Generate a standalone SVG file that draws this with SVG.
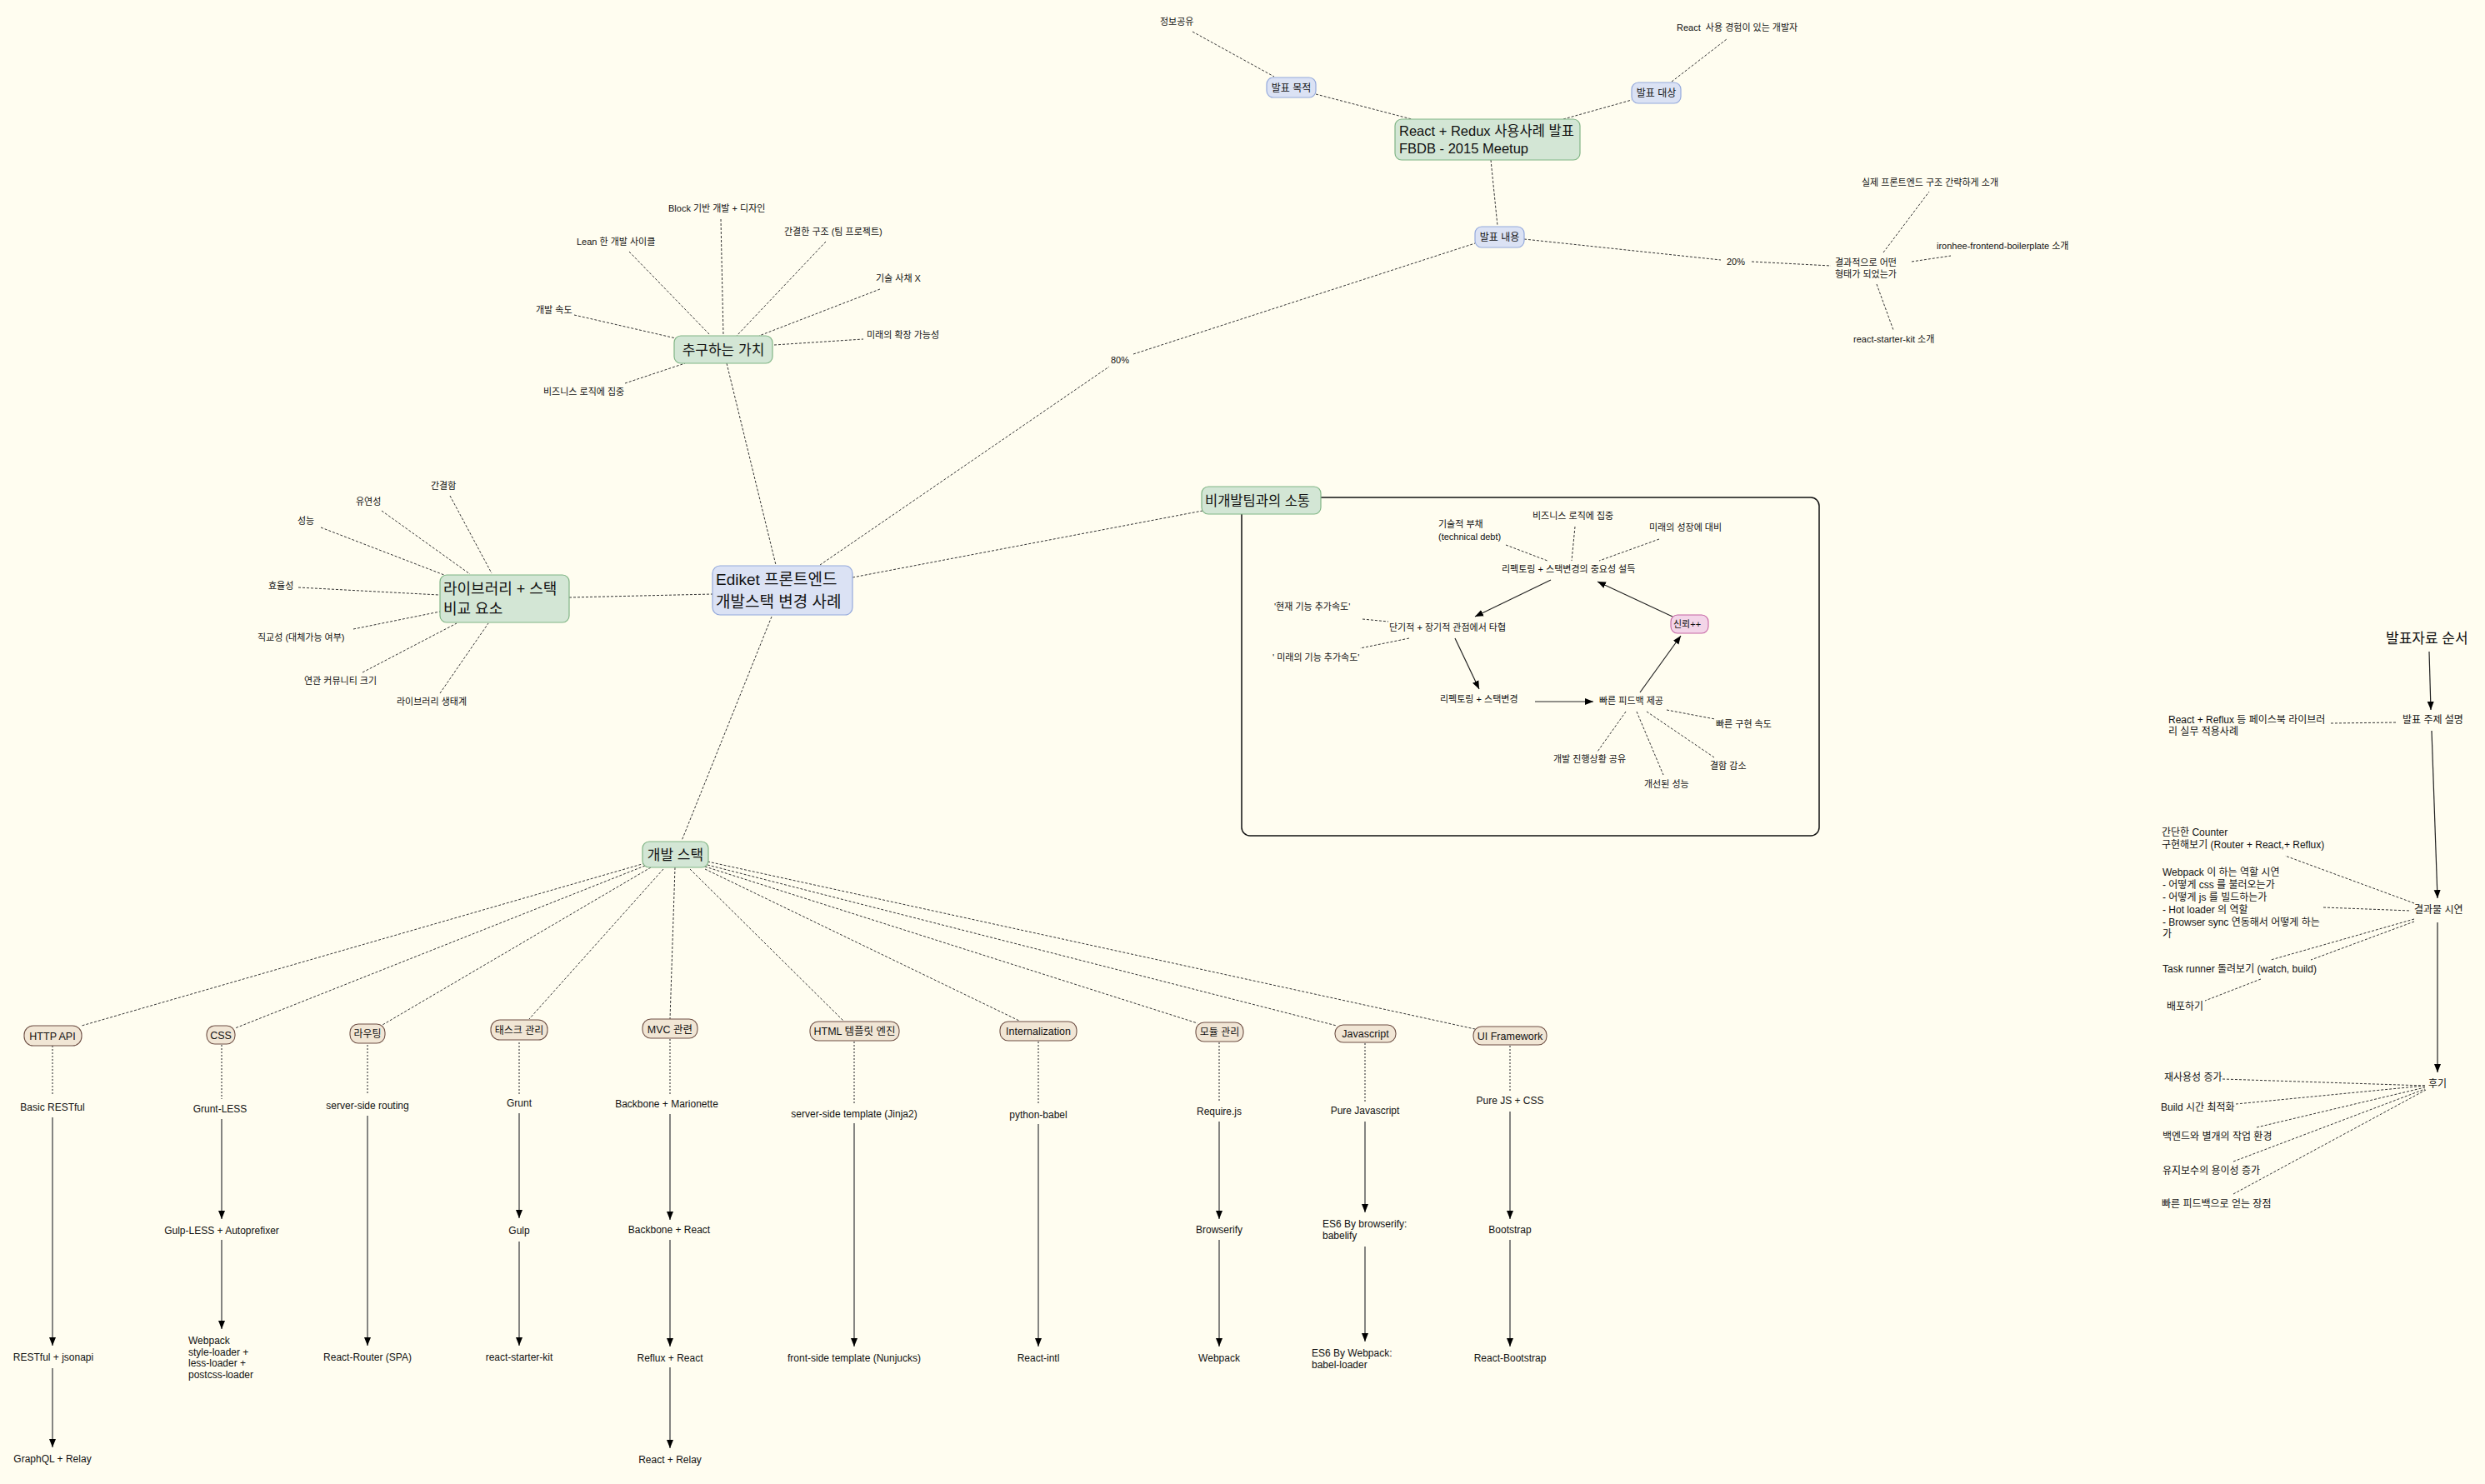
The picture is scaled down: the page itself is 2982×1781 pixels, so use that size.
<svg xmlns="http://www.w3.org/2000/svg" width="2982" height="1781" viewBox="0 0 2982 1781">
<defs>
<style>
text{font-family:"Liberation Sans","Noto Sans CJK KR",sans-serif;fill:#111}
.f11{font-size:11px}.f12{font-size:12px}.f125{font-size:12.5px}.f165{font-size:16.5px}.f17{font-size:17px}.f18{font-size:18px}.f19{font-size:19px}
.m{text-anchor:middle}
.pre{white-space:pre}
.dash{stroke:#333;stroke-width:1;stroke-dasharray:3 2;fill:none}
.dot{stroke:#555;stroke-width:1.3;stroke-dasharray:2 2;fill:none}
.arr{stroke:#222;stroke-width:1.2;fill:none;marker-end:url(#ah)}
.garr{stroke:#666;stroke-width:1.6;fill:none;marker-end:url(#ah)}
.green{fill:#d3e6d5;stroke:#80b585;stroke-width:1.2}
.blue{fill:#dbe2f4;stroke:#94a9dc;stroke-width:1.2}
.beige{fill:#f1e6d5;stroke:#6e4f44;stroke-width:1.1}
.pink{fill:#f3d5e8;stroke:#c564a4;stroke-width:1.1}
</style>
<marker id="ah" viewBox="0 0 10 10" refX="10" refY="5" markerWidth="10" markerHeight="10" markerUnits="userSpaceOnUse" orient="auto"><path d="M0,1 L10,5 L0,9 Z" fill="#000"/></marker>
</defs>
<rect x="0" y="0" width="2982" height="1781" fill="#fffdf0"/>

<g id="connectors">
<path class="dash" d="M1431,38 L1529,92"/>
<path class="dash" d="M1579,113 L1694,143"/>
<path class="dash" d="M1876,143 L1958,120"/>
<path class="dash" d="M2006,98 L2072,47"/>
<path class="dash" d="M1789,192 L1797,271"/>
<path class="dash" d="M1829,287 L2065,312 M2102,314 L2197,319"/>
<path class="dash" d="M2260,303 L2315,230"/>
<path class="dash" d="M2294,314 L2341,307"/>
<path class="dash" d="M2252,341 L2272,396"/>
<path class="dash" d="M984,678 L1331,440 M1360,425 L1770,292"/>
<path class="dash" d="M865,263 L868,403"/>
<path class="dash" d="M991,290 L884,403"/>
<path class="dash" d="M755,302 L852,402"/>
<path class="dash" d="M1056,347 L911,403"/>
<path class="dash" d="M689,378 L811,406"/>
<path class="dash" d="M929,414 L1036,407"/>
<path class="dash" d="M750,460 L822,436"/>
<path class="dash" d="M872,436 L931,678"/>
<path class="dash" d="M540,595 L590,688"/>
<path class="dash" d="M458,613 L564,689"/>
<path class="dash" d="M385,633 L533,690"/>
<path class="dash" d="M358,705 L527,714"/>
<path class="dash" d="M424,755 L528,734"/>
<path class="dash" d="M435,807 L548,748"/>
<path class="dash" d="M528,832 L586,748"/>
<path class="dash" d="M683,717 L855,713"/>
<path class="dash" d="M1023,693 L1443,613"/>
<path class="dash" d="M926,740 L818,1009"/>
<rect x="1490" y="597" width="693" height="406" rx="10" fill="none" stroke="#111" stroke-width="1.5"/>
<path class="dash" d="M1807,654 L1857,673"/>
<path class="dash" d="M1890,632 L1886,673"/>
<path class="dash" d="M1991,647 L1919,673"/>
<path class="dash" d="M1635,743 L1666,746"/>
<path class="dash" d="M1691,766 L1632,778"/>
<path class="dash" d="M2000,852 L2058,863"/>
<path class="dash" d="M1976,854 L2057,909"/>
<path class="dash" d="M1964,854 L1996,930"/>
<path class="dash" d="M1951,854 L1917,902"/>
<path class="arr" d="M1861,696 L1770,740"/>
<path class="arr" d="M1746,766 L1775,827"/>
<path class="arr" d="M1842,842 L1912,842"/>
<path class="arr" d="M1968,831 L2017,763"/>
<path class="arr" d="M2007,740 L1917,698"/>
<path class="arr" d="M2915,782 L2917,852"/>
<path class="dash" d="M2797,868 L2877,867"/>
<path class="arr" d="M2918,877 L2925,1078"/>
<path class="dash" d="M2897,1084 L2742,1027"/>
<path class="dash" d="M2788,1089 L2893,1093"/>
<path class="dash" d="M2897,1103 L2725,1152"/>
<path class="dash" d="M2897,1106 L2773,1152 M2713,1175 L2646,1201"/>
<path class="arr" d="M2925,1107 L2925,1287"/>
<path class="dash" d="M2667,1295 L2910,1303"/>
<path class="dash" d="M2683,1325 L2910,1303"/>
<path class="dash" d="M2708,1353 L2910,1305"/>
<path class="dash" d="M2680,1394 L2910,1307"/>
<path class="dash" d="M2680,1433 L2911,1308"/>
<path class="dash" d="M774,1036 L98,1231"/>
<path class="dash" d="M774,1039 L282,1234"/>
<path class="dash" d="M781,1041 L459,1230"/>
<path class="dash" d="M796,1043 L635,1223"/>
<path class="dash" d="M810,1041 L804,1223"/>
<path class="dash" d="M828,1043 L1012,1225"/>
<path class="dash" d="M846,1043 L1223,1225"/>
<path class="dash" d="M846,1040 L1437,1228"/>
<path class="dash" d="M849,1038 L1604,1231"/>
<path class="dash" d="M849,1034 L1770,1235"/>
<path class="dot" d="M63,1255 L63,1315 M266,1254 L266,1319 M441,1254 L441,1314 M623,1251 L623,1313 M804,1247 L804,1313 M1025,1250 L1025,1326 M1246,1250 L1246,1326 M1463,1251 L1463,1323 M1638,1252 L1638,1322 M1812,1255 L1812,1310"/>
<path class="garr" d="M63,1341 L63,1615"/>
<path class="garr" d="M63,1642 L63,1737"/>
<path class="garr" d="M266,1343 L266,1463"/>
<path class="garr" d="M266,1488 L266,1595"/>
<path class="garr" d="M441,1339 L441,1615"/>
<path class="garr" d="M623,1336 L623,1462"/>
<path class="garr" d="M623,1490 L623,1615"/>
<path class="garr" d="M804,1337 L804,1464"/>
<path class="garr" d="M804,1488 L804,1616"/>
<path class="garr" d="M804,1641 L804,1738"/>
<path class="garr" d="M1025,1348 L1025,1616"/>
<path class="garr" d="M1246,1349 L1246,1616"/>
<path class="garr" d="M1463,1346 L1463,1463"/>
<path class="garr" d="M1463,1488 L1463,1616"/>
<path class="garr" d="M1638,1346 L1638,1455"/>
<path class="garr" d="M1638,1496 L1638,1610"/>
<path class="garr" d="M1812,1334 L1812,1463"/>
<path class="garr" d="M1812,1488 L1812,1616"/>
</g>

<g id="n-root"><rect class="green" x="1674" y="143" width="222" height="49" rx="8"/><text class="f165" x="1679" y="163">React + Redux 사용사례 발표</text><text class="f165" x="1679" y="184">FBDB - 2015 Meetup</text></g>
<g id="n-purpose"><rect class="blue" x="1520" y="93" width="59" height="24" rx="8"/><text class="f12 m" x="1549.5" y="109.5">발표 목적</text></g>
<g id="n-share"><text class="f11" x="1392" y="30">정보공유</text></g>
<g id="n-target"><rect class="blue" x="1958" y="99" width="59" height="25" rx="8"/><text class="f12 m" x="1987.5" y="116">발표 대상</text></g>
<g id="n-react-dev"><text class="f11 pre" x="2012" y="37" xml:space="preserve">React  사용 경험이 있는 개발자</text></g>
<g id="n-content"><rect class="blue" x="1770" y="272" width="59" height="25" rx="8"/><text class="f12 m" x="1799.5" y="289">발표 내용</text></g>
<g id="n-20"><text class="f11" x="2072" y="318">20%</text></g>
<g id="n-80"><text class="f11" x="1333" y="436">80%</text></g>
<g id="n-result"><text class="f11" x="2202" y="319">결과적으로 어떤</text><text class="f11" x="2202" y="333">형태가 되었는가</text></g>
<g id="n-real"><text class="f11" x="2234" y="223">실제 프론트엔드 구조 간략하게 소개</text></g>
<g id="n-ironhee"><text class="f11" x="2324" y="299">ironhee-frontend-boilerplate 소개</text></g>
<g id="n-rsk"><text class="f11" x="2224" y="411">react-starter-kit 소개</text></g>

<g id="n-values"><rect class="green" x="809" y="403" width="118" height="33" rx="8"/><text class="f17 m" x="868" y="426">추구하는 가치</text></g>
<g id="n-block"><text class="f11" x="802" y="254">Block 기반 개발 + 디자인</text></g>
<g id="n-simple"><text class="f11" x="941" y="282">간결한 구조 (팀 프로젝트)</text></g>
<g id="n-lean"><text class="f11" x="692" y="294">Lean 한 개발 사이클</text></g>
<g id="n-debt"><text class="f11" x="1051" y="338">기술 사채 X</text></g>
<g id="n-speed"><text class="f11" x="643" y="376">개발 속도</text></g>
<g id="n-future"><text class="f11" x="1040" y="406">미래의 확장 가능성</text></g>
<g id="n-biz"><text class="f11" x="652" y="474">비즈니스 로직에 집중</text></g>

<g id="n-lib"><rect class="green" x="528" y="690" width="155" height="57" rx="8"/><text class="f18" x="532" y="713">라이브러리 + 스택</text><text class="f18" x="532" y="737">비교 요소</text></g>
<g id="n-l1"><text class="f11" x="517" y="587">간결함</text></g>
<g id="n-l2"><text class="f11" x="427" y="606">유연성</text></g>
<g id="n-l3"><text class="f11" x="357" y="629">성능</text></g>
<g id="n-l4"><text class="f11" x="322" y="707">효율성</text></g>
<g id="n-l5"><text class="f11" x="309" y="769">직교성 (대체가능 여부)</text></g>
<g id="n-l6"><text class="f11" x="365" y="821">연관 커뮤니티 크기</text></g>
<g id="n-l7"><text class="f11" x="476" y="846">라이브러리 생태계</text></g>

<g id="n-ediket"><rect class="blue" x="855" y="679" width="168" height="59" rx="9"/><text class="f19" x="859" y="702">Ediket 프론트엔드</text><text class="f19" x="859" y="729">개발스택 변경 사례</text></g>

<g id="n-comm"><rect class="green" x="1442" y="584" width="143" height="33" rx="8"/><text class="f165" x="1446" y="607">비개발팀과의 소통</text></g>
<g id="n-c1"><text class="f11" x="1726" y="633">기술적 부채</text><text class="f11" x="1726" y="648">(technical debt)</text></g>
<g id="n-c2"><text class="f11" x="1839" y="623">비즈니스 로직에 집중</text></g>
<g id="n-c3"><text class="f11" x="1979" y="637">미래의 성장에 대비</text></g>
<g id="n-c4"><text class="f11" x="1802" y="687">리펙토링 + 스택변경의 중요성 설득</text></g>
<g id="n-c5"><text class="f11" x="1529" y="732">'현재 기능 추가속도'</text></g>
<g id="n-c6"><text class="f11" x="1667" y="757">단기적 + 장기적 관점에서 타협</text></g>
<g id="n-c7"><text class="f11" x="1527" y="793">' 미래의 기능 추가속도'</text></g>
<g id="n-c8"><text class="f11" x="1728" y="843">리펙토링 + 스택변경</text></g>
<g id="n-c9"><text class="f11" x="1919" y="845">빠른 피드백 제공</text></g>
<g id="n-c10"><rect class="pink" x="2005" y="738" width="45" height="22" rx="8"/><text class="f11" x="2008" y="753">신뢰++</text></g>
<g id="n-c11"><text class="f11" x="2059" y="873">빠른 구현 속도</text></g>
<g id="n-c12"><text class="f11" x="2052" y="923">결함 감소</text></g>
<g id="n-c13"><text class="f11" x="1973" y="945">개선된 성능</text></g>
<g id="n-c14"><text class="f11" x="1864" y="915">개발 진행상황 공유</text></g>

<g id="n-order"><text class="f17" x="2863" y="772">발표자료 순서</text></g>
<g id="n-topic"><text class="f12" x="2883" y="868">발표 주제 설명</text></g>
<g id="n-reflux"><text class="f12" x="2602" y="868">React + Reflux 등 페이스북 라이브러</text><text class="f12" x="2602" y="882">리 실무 적용사례</text></g>
<g id="n-demo"><text class="f12" x="2897" y="1096">결과물 시연</text></g>
<g id="n-counter"><text class="f12" x="2594" y="1003">간단한 Counter</text><text class="f12" x="2594" y="1018">구현해보기 (Router + React,+ Reflux)</text></g>
<g id="n-webpack"><text class="f12" x="2595" y="1051">Webpack 이 하는 역할 시연</text><text class="f12" x="2595" y="1066">- 어떻게 css 를 불러오는가</text><text class="f12" x="2595" y="1081">- 어떻게 js 를 빌드하는가</text><text class="f12" x="2595" y="1096">- Hot loader 의 역할</text><text class="f12" x="2595" y="1111">- Browser sync 연동해서 어떻게 하는</text><text class="f12" x="2595" y="1125">가</text></g>
<g id="n-task"><text class="f12" x="2595" y="1167">Task runner 돌려보기 (watch, build)</text></g>
<g id="n-deploy"><text class="f12" x="2600" y="1212">배포하기</text></g>
<g id="n-review"><text class="f12" x="2914" y="1305">후기</text></g>
<g id="n-r1"><text class="f12" x="2597" y="1297">재사용성 증가</text></g>
<g id="n-r2"><text class="f12" x="2593" y="1333">Build 시간 최적화</text></g>
<g id="n-r3"><text class="f12" x="2595" y="1368">백엔드와 별개의 작업 환경</text></g>
<g id="n-r4"><text class="f12" x="2595" y="1409">유지보수의 용이성 증가</text></g>
<g id="n-r5"><text class="f12" x="2594" y="1449">빠른 피드백으로 얻는 장점</text></g>

<g id="n-devstack"><rect class="green" x="771" y="1010" width="79" height="31" rx="8"/><text class="f17 m" x="810.5" y="1032">개발 스택</text></g>

<g id="n-http"><rect class="beige" x="29" y="1231" width="69" height="24" rx="11"/><text class="f125 m" x="63" y="1248">HTTP API</text></g>
<g id="n-http1"><text class="f12 m" x="63" y="1333">Basic RESTful</text></g>
<g id="n-http2"><text class="f12 m" x="64" y="1633">RESTful + jsonapi</text></g>
<g id="n-http3"><text class="f12 m" x="63" y="1755">GraphQL + Relay</text></g>

<g id="n-css"><rect class="beige" x="248" y="1231" width="34" height="22" rx="10"/><text class="f125 m" x="265" y="1247">CSS</text></g>
<g id="n-css1"><text class="f12 m" x="264" y="1335">Grunt-LESS</text></g>
<g id="n-css2"><text class="f12 m" x="266" y="1481">Gulp-LESS + Autoprefixer</text></g>
<g id="n-css3"><text class="f12" x="226" y="1613">Webpack</text><text class="f12" x="226" y="1627">style-loader +</text><text class="f12" x="226" y="1640">less-loader +</text><text class="f12" x="226" y="1654">postcss-loader</text></g>

<g id="n-route"><rect class="beige" x="420" y="1229" width="42" height="23" rx="10"/><text class="f12 m" x="441" y="1245">라우팅</text></g>
<g id="n-route1"><text class="f12 m" x="441" y="1331">server-side routing</text></g>
<g id="n-route2"><text class="f12 m" x="441" y="1633">React-Router (SPA)</text></g>

<g id="n-task-mgmt"><rect class="beige" x="589" y="1224" width="68" height="24" rx="11"/><text class="f12 m" x="623" y="1240.5">태스크 관리</text></g>
<g id="n-tm1"><text class="f12 m" x="623" y="1328">Grunt</text></g>
<g id="n-tm2"><text class="f12 m" x="623" y="1481">Gulp</text></g>
<g id="n-tm3"><text class="f12 m" x="623" y="1633">react-starter-kit</text></g>

<g id="n-mvc"><rect class="beige" x="771" y="1223" width="66" height="23" rx="10"/><text class="f125 m" x="804" y="1239.5">MVC 관련</text></g>
<g id="n-mvc1"><text class="f12 m" x="800" y="1329">Backbone + Marionette</text></g>
<g id="n-mvc2"><text class="f12 m" x="803" y="1480">Backbone + React</text></g>
<g id="n-mvc3"><text class="f12 m" x="804" y="1634">Reflux + React</text></g>
<g id="n-mvc4"><text class="f12 m" x="804" y="1756">React + Relay</text></g>

<g id="n-html"><rect class="beige" x="972" y="1226" width="107" height="23" rx="10"/><text class="f125 m" x="1025.5" y="1242">HTML 템플릿 엔진</text></g>
<g id="n-html1"><text class="f12 m" x="1025" y="1341">server-side template (Jinja2)</text></g>
<g id="n-html2"><text class="f12 m" x="1025" y="1634">front-side template (Nunjucks)</text></g>

<g id="n-intl"><rect class="beige" x="1200" y="1226" width="92" height="23" rx="10"/><text class="f125 m" x="1246" y="1242">Internalization</text></g>
<g id="n-intl1"><text class="f12 m" x="1246" y="1342">python-babel</text></g>
<g id="n-intl2"><text class="f12 m" x="1246" y="1634">React-intl</text></g>

<g id="n-module"><rect class="beige" x="1435" y="1227" width="57" height="23" rx="10"/><text class="f12 m" x="1463.5" y="1243">모듈 관리</text></g>
<g id="n-mod1"><text class="f12 m" x="1463" y="1338">Require.js</text></g>
<g id="n-mod2"><text class="f12 m" x="1463" y="1480">Browserify</text></g>
<g id="n-mod3"><text class="f12 m" x="1463" y="1634">Webpack</text></g>

<g id="n-js"><rect class="beige" x="1602" y="1230" width="73" height="21" rx="10"/><text class="f125 m" x="1638.5" y="1245">Javascript</text></g>
<g id="n-js1"><text class="f12 m" x="1638" y="1337">Pure Javascript</text></g>
<g id="n-js2"><text class="f12" x="1587" y="1473">ES6 By browserify:</text><text class="f12" x="1587" y="1487">babelify</text></g>
<g id="n-js3"><text class="f12" x="1574" y="1628">ES6 By Webpack:</text><text class="f12" x="1574" y="1642">babel-loader</text></g>

<g id="n-ui"><rect class="beige" x="1768" y="1232" width="88" height="22" rx="10"/><text class="f125 m" x="1812" y="1247.5">UI Framework</text></g>
<g id="n-ui1"><text class="f12 m" x="1812" y="1325">Pure JS + CSS</text></g>
<g id="n-ui2"><text class="f12 m" x="1812" y="1480">Bootstrap</text></g>
<g id="n-ui3"><text class="f12 m" x="1812" y="1634">React-Bootstrap</text></g>
</svg>
